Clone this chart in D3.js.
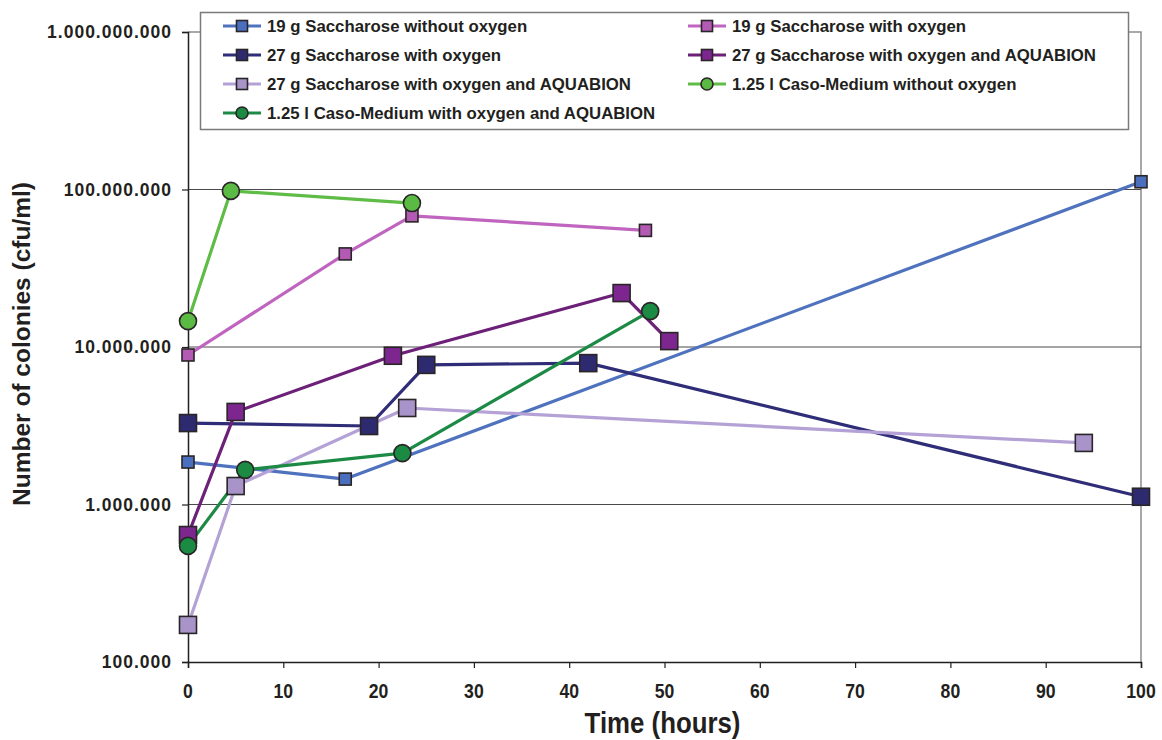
<!DOCTYPE html>
<html>
<head>
<meta charset="utf-8">
<script src="https://cdn.jsdelivr.net/npm/d3@7"></script>
<style>
  html, body { margin: 0; padding: 0; background: #fff; }
  svg { display: block; }
  text { fill: #231f20; }
</style>
</head>
<body>
<svg id="chart" width="1162" height="740"></svg>
<script>
// Colony counts (cfu/ml) over time (hours) for each culture condition
const seriesNames = [
  "19 g Saccharose without oxygen",
  "19 g Saccharose with oxygen",
  "27 g Saccharose with oxygen",
  "27 g Saccharose with oxygen and AQUABION",
  "27 g Saccharose with oxygen and AQUABION",
  "1.25 l Caso-Medium without oxygen",
  "1.25 l Caso-Medium with oxygen and AQUABION"
];
const sacc19NoO2Time   = [0, 16.5, 100];
const sacc19NoO2Value  = [1.86e6, 1.45e6, 1.12e8];
const sacc19O2Time     = [0, 16.5, 23.5, 48];
const sacc19O2Value    = [8.9e6, 3.9e7, 6.8e7, 5.5e7];
const sacc27O2Time     = [0, 19, 25, 42, 100];
const sacc27O2Value    = [3.29e6, 3.15e6, 7.7e6, 7.9e6, 1.12e6];
const sacc27AquaATime  = [0, 5, 21.5, 45.5, 50.5];
const sacc27AquaAValue = [6.4e5, 3.87e6, 8.8e6, 2.2e7, 1.09e7];
const sacc27AquaBTime  = [0, 5, 23, 94];
const sacc27AquaBValue = [1.72e5, 1.31e6, 4.1e6, 2.46e6];
const casoNoO2Time     = [0, 4.5, 23.5];
const casoNoO2Value    = [1.46e7, 9.8e7, 8.2e7];
const casoAquaTime     = [0, 6, 22.5, 48.5];
const casoAquaValue    = [5.46e5, 1.66e6, 2.12e6, 1.69e7];

const xTicks = [0, 10, 20, 30, 40, 50, 60, 70, 80, 90, 100];
const yTicks = [1e5, 1e6, 1e7, 1e8, 1e9];
const yTickLabels = ["100.000", "1.000.000", "10.000.000", "100.000.000", "1.000.000.000"];

const styles = [
  { line: "#4f72be", fill: "#4a6fbf", shape: "square", size: 12 },
  { line: "#bf65bf", fill: "#b25ab4", shape: "square", size: 12 },
  { line: "#2f2d78", fill: "#2e2a70", shape: "square", size: 17 },
  { line: "#6c2077", fill: "#7d2690", shape: "square", size: 17 },
  { line: "#b4a2d6", fill: "#a894c9", shape: "square", size: 17 },
  { line: "#5fbc47", fill: "#5bba44", shape: "circle", size: 17 },
  { line: "#1c8a44", fill: "#1b8a43", shape: "circle", size: 17 }
];

const series = [
  [sacc19NoO2Time, sacc19NoO2Value],
  [sacc19O2Time, sacc19O2Value],
  [sacc27O2Time, sacc27O2Value],
  [sacc27AquaATime, sacc27AquaAValue],
  [sacc27AquaBTime, sacc27AquaBValue],
  [casoNoO2Time, casoNoO2Value],
  [casoAquaTime, casoAquaValue]
].map(([t, v], i) => ({
  name: seriesNames[i],
  style: styles[i],
  points: t.map((tt, j) => ({ t: tt, v: v[j] }))
}));

const svg = d3.select("#chart");
const plotLeft = 188, plotRight = 1141, plotTop = 32, plotBottom = 662;

const x = d3.scaleLinear().domain([0, 100]).range([plotLeft, plotRight]);
const y = d3.scaleLog().domain([1e5, 1e9]).range([plotBottom, plotTop]);

const fontMain = "'Liberation Sans', Arial, Helvetica, sans-serif";

// plot frame (top and right edges)
svg.append("path")
  .attr("d", `M${plotLeft},${plotTop}H${plotRight}V${plotBottom}`)
  .attr("fill", "none").attr("stroke", "#8c8c8c").attr("stroke-width", 1.5);

// horizontal gridlines at each decade
svg.append("g").selectAll("line")
  .data(yTicks.slice(1, -1))
  .join("line")
  .attr("x1", plotLeft).attr("x2", plotRight)
  .attr("y1", d => y(d)).attr("y2", d => y(d))
  .attr("stroke", "#4a4a4a").attr("stroke-width", 1);

// y axis
const yAxis = d3.axisLeft(y).tickValues(yTicks)
  .tickFormat((d, i) => yTickLabels[i]).tickSize(6).tickPadding(10);
const gy = svg.append("g").attr("transform", `translate(${plotLeft},0)`).call(yAxis);
gy.select(".domain").attr("stroke", "#231f20").attr("stroke-width", 1.5);
gy.selectAll(".tick line").attr("stroke", "#231f20").attr("stroke-width", 1.2);
gy.selectAll(".tick text")
  .attr("font-family", fontMain).attr("font-weight", "bold")
  .attr("font-size", 17.5).attr("letter-spacing", "1px")
  .attr("fill", "#231f20");

// x axis (condensed labels)
const xAxis = d3.axisBottom(x).tickValues(xTicks).tickSize(6).tickFormat(() => "");
const gx = svg.append("g").attr("transform", `translate(0,${plotBottom})`).call(xAxis);
gx.select(".domain").attr("stroke", "#231f20").attr("stroke-width", 1.5);
gx.selectAll(".tick line").attr("stroke", "#231f20").attr("stroke-width", 1.2);
svg.append("g").selectAll("text")
  .data(xTicks)
  .join("text")
  .attr("transform", d => `translate(${x(d)},698) scale(0.84,1)`)
  .attr("text-anchor", "middle")
  .attr("font-family", fontMain).attr("font-weight", "bold")
  .attr("font-size", 21)
  .text(d => d);

// axis titles
svg.append("text")
  .attr("transform", `translate(${(plotLeft + plotRight) / 2 - 2},733) scale(0.89,1)`)
  .attr("text-anchor", "middle")
  .attr("font-family", fontMain).attr("font-weight", "bold")
  .attr("font-size", 29).text("Time (hours)");

svg.append("text")
  .attr("transform", "translate(30,344) rotate(-90)")
  .attr("text-anchor", "middle")
  .attr("font-family", fontMain).attr("font-weight", "bold")
  .attr("font-size", 24.5).text("Number of colonies (cfu/ml)");

// marker drawing helper
function drawMarker(g, cx, cy, st, scale = 1) {
  const s = st.size * scale;
  if (st.shape === "square") {
    g.append("rect")
      .attr("x", cx - s / 2).attr("y", cy - s / 2)
      .attr("width", s).attr("height", s)
      .attr("fill", st.fill).attr("stroke", "#2a2526").attr("stroke-width", 1.6);
  } else {
    g.append("circle")
      .attr("cx", cx).attr("cy", cy).attr("r", s / 2)
      .attr("fill", st.fill).attr("stroke", "#2a2526").attr("stroke-width", 1.6);
  }
}

// series lines then markers
const line = d3.line().x(d => x(d.t)).y(d => y(d.v));
const plot = svg.append("g");
series.forEach(s => {
  plot.append("path")
    .attr("d", line(s.points))
    .attr("fill", "none").attr("stroke", s.style.line)
    .attr("stroke-width", 3.2).attr("stroke-linejoin", "round");
});
series.forEach(s => {
  const g = plot.append("g");
  s.points.forEach(p => drawMarker(g, x(p.t), y(p.v), s.style));
});

// legend
const legend = svg.append("g");
legend.append("rect")
  .attr("x", 200.5).attr("y", 12.5).attr("width", 928).attr("height", 117)
  .attr("fill", "#fff").attr("stroke", "#7a7a7a").attr("stroke-width", 1.5);
const colX = [223, 688];
const rowY = [26, 55, 84, 113];
series.forEach((s, i) => {
  const col = i % 2, row = Math.floor(i / 2);
  const lx = colX[col], ly = rowY[row];
  const g = legend.append("g");
  g.append("line").attr("x1", lx).attr("x2", lx + 38)
    .attr("y1", ly).attr("y2", ly)
    .attr("stroke", s.style.line).attr("stroke-width", 3.2);
  drawMarker(g, lx + 19, ly, s.style, s.style.shape === "square" ? 11 / s.style.size : 12 / s.style.size);
  g.append("text")
    .attr("x", lx + 44).attr("y", ly + 6)
    .attr("font-family", fontMain).attr("font-weight", "bold")
    .attr("font-size", 16.8).text(s.name);
});
</script>
</body>
</html>
